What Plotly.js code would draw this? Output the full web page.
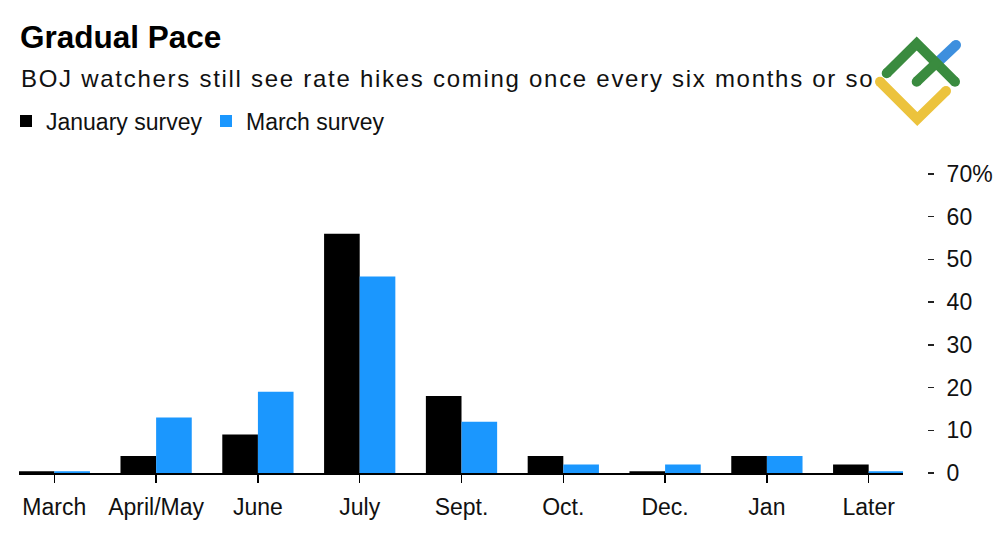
<!DOCTYPE html>
<html>
<head>
<meta charset="utf-8">
<script src="https://cdn.plot.ly/plotly-3.0.1.min.js"></script>
<style>
html,body{margin:0;padding:0;background:#fff;}
#chart{width:1000px;height:545px;}
g.annotation[data-index="1"] text{letter-spacing:1.72px;}
</style>
</head>
<body>
<div id="chart"></div>
<script>
var categories = ["March","April/May","June","July","Sept.","Oct.","Dec.","Jan","Later"];
var januarySurvey = [0.4, 4, 9, 56, 18, 4, 0.4, 4, 2];
var marchSurvey = [0.4, 13, 19, 46, 12, 2, 2, 4, 0.4];
var yTickVals = [0, 10, 20, 30, 40, 50, 60, 70];
var yTickText = ["0", "10", "20", "30", "40", "50", "60", "70%"];

var FONT = "Liberation Sans, Arial, Helvetica, sans-serif";
var W = 1000, H = 545;
function px(x){ return x / W; }
function py(y){ return (H - y) / H; }

var traces = [
  {type:"bar", name:"January survey", x:categories, y:januarySurvey,
   marker:{color:"#000000"}, hoverinfo:"x+y"},
  {type:"bar", name:"March survey", x:categories, y:marchSurvey,
   marker:{color:"#1b97fe"}, hoverinfo:"x+y"}
];

function seg(pts, color, width){
  var d = "M " + pts.map(function(p){ return px(p[0]) + "," + py(p[1]); }).join(" L ");
  return {type:"path", xref:"paper", yref:"paper", path:d,
          line:{color:color, width:width}, layer:"above"};
}
function dot(p, color){
  var r = 5;
  return {type:"circle", xref:"paper", yref:"paper",
          x0:px(p[0]-r), x1:px(p[0]+r), y0:py(p[1]+r), y1:py(p[1]-r),
          fillcolor:color, line:{width:0}, layer:"above"};
}
var GREEN = "#3a8b3f", BLUE = "#3d8fde", YELLOW = "#ecc33d";
var shapes = [
  seg([[880,81.7],[917.3,119],[946,91]], YELLOW, 10),
  dot([880,81.7], YELLOW), dot([946,91], YELLOW), dot([917.3,117.5], YELLOW),
  seg([[939,61],[956,45]], BLUE, 10),
  dot([956,45], BLUE),
  seg([[886.7,73.3],[916.7,43.5],[955,81.7]], GREEN, 10),
  dot([886.7,73.3], GREEN), dot([955,81.7], GREEN), dot([916.7,45], GREEN),
  seg([[916.7,81.7],[939,60.5]], GREEN, 10),
  dot([916.7,81.7], GREEN)
];

var layout = {
  width: W, height: H,
  margin:{l:0, r:0, t:0, b:0},
  paper_bgcolor:"#ffffff", plot_bgcolor:"#ffffff",
  font:{family:FONT, color:"#111111", size:23},
  barmode:"group", bargap:0.3, bargroupgap:0,
  showlegend:true,
  legend:{orientation:"h", x:px(6), y:py(121), xanchor:"left", yanchor:"middle",
          entrywidth:155, entrywidthmode:"pixels",
          font:{family:FONT, size:23, color:"#111111"}, bgcolor:"rgba(0,0,0,0)",
          traceorder:"normal", itemclick:false},
  xaxis:{domain:[px(19), px(903)], range:[-0.347, 8.337], type:"category",
         showline:true, linecolor:"#000000", linewidth:2,
         ticks:"outside", ticklen:8, tickwidth:1.5, tickcolor:"#000000",
         ticklabelstandoff:4,
         showgrid:false, zeroline:false, fixedrange:true,
         tickfont:{family:FONT, size:23, color:"#111111"}},
  yaxis:{domain:[py(473), py(174)], range:[0,70], side:"right",
         anchor:"free", position:px(927),
         tickvals:yTickVals, ticktext:yTickText,
         ticks:"outside", ticklen:6, tickwidth:1.5, tickcolor:"#222222",
         ticklabelstandoff:8,
         showline:false, showgrid:false, zeroline:false, fixedrange:true,
         tickfont:{family:FONT, size:23, color:"#111111"}},
  annotations:[
    {text:"<b>Gradual Pace</b>", xref:"paper", yref:"paper", x:px(18), y:py(37),
     xanchor:"left", yanchor:"middle", align:"left", showarrow:false,
     font:{family:FONT, size:31.5, color:"#000000"}},
    {text:"BOJ watchers still see rate hikes coming once every six months or so",
     xref:"paper", yref:"paper", x:px(19), y:py(78),
     xanchor:"left", yanchor:"middle", align:"left", showarrow:false,
     font:{family:FONT, size:24, color:"#111111"}}
  ],
  shapes: shapes
};

Plotly.newPlot("chart", traces, layout, {displayModeBar:false, staticPlot:true});
</script>
</body>
</html>
